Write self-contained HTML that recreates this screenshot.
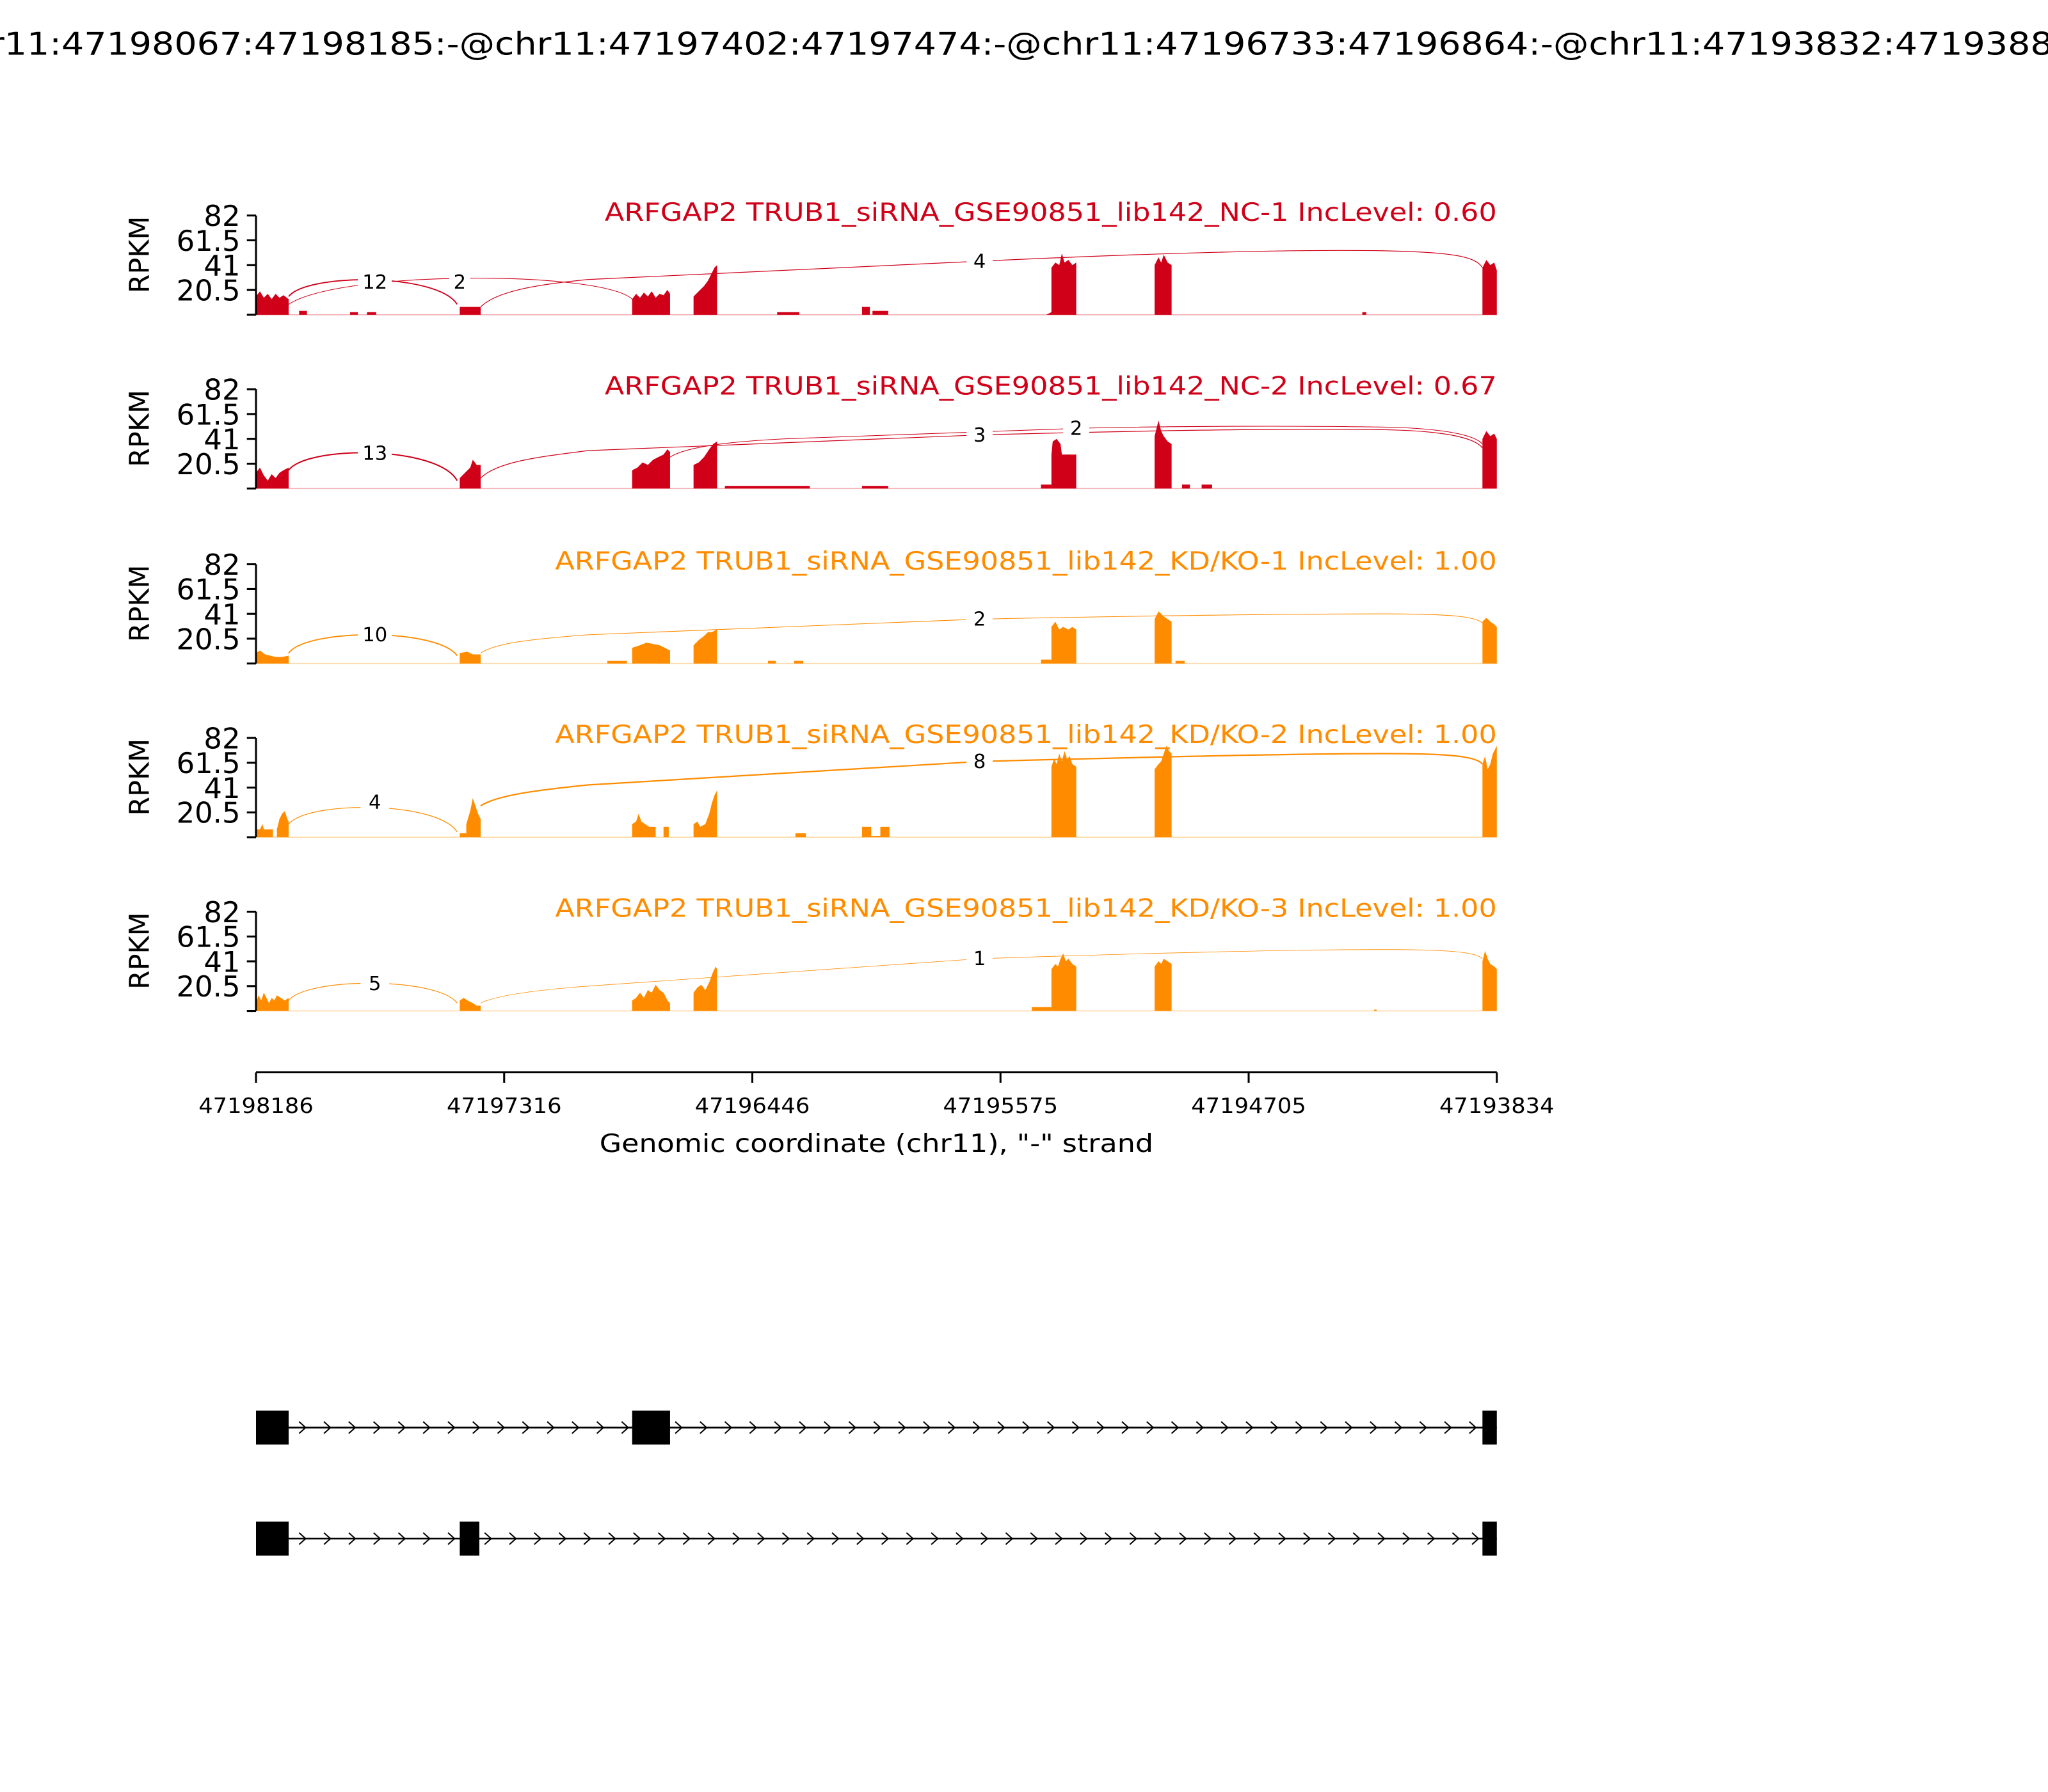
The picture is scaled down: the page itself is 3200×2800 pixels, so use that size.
<!DOCTYPE html>
<html><head><meta charset="utf-8"><style>html,body{margin:0;padding:0;background:#fff}svg{display:block}</style></head>
<body>
<svg xmlns="http://www.w3.org/2000/svg" width="3200" height="2800" viewBox="0 0 1568 1372" font-family="'DejaVu Sans','Liberation Sans',sans-serif">
<rect width="1568" height="1372" fill="#fff"/>
<text x="-40" y="42" font-size="24" textLength="1648" lengthAdjust="spacingAndGlyphs">chr11:47198067:47198185:-@chr11:47197402:47197474:-@chr11:47196733:47196864:-@chr11:47193832:47193888:-</text>

<!-- Panel 1 -->
<g transform="translate(0,165)" fill="#cf0018">
<line x1="196" y1="76" x2="1146" y2="76" stroke="#f4b0b8" stroke-width="0.8"/>
<polygon points="196,76 196,62 199,58 202,63 205,60 208,64 211,60 214,63 217,61 221,64 221,76"/>
<rect x="229" y="73" width="6" height="3"/><rect x="268" y="74" width="6" height="2"/><rect x="281" y="74" width="7" height="2"/>
<rect x="352" y="70" width="16" height="6"/>
<polygon points="484,76 484,64 487,60 490,63 493,59 496,62 499,58 502,63 505,60 508,61 511,57 513,60 513,76"/>
<polygon points="531,76 531,62 535,58 539,54 542,50 545,44 547,40 549,38 549,76"/>
<rect x="595" y="74" width="17" height="2"/><rect x="660" y="70" width="6" height="6"/><rect x="668" y="73" width="12" height="3"/>
<polygon points="801,76 805,74 805,40 808,36 811,38 813,29 815,36 818,34 821,38 824,36 824,76"/>
<polygon points="884,76 884,38 887,32 889,36 891,30 894,36 897,38 897,76"/>
<rect x="1043" y="74" width="3" height="2"/>
<polygon points="1135,76 1135,40 1138,34 1141,38 1144,36 1146,42 1146,76"/>
<g fill="none" stroke="#cf0018">
<path d="M221,62 C235,44 335,44 350,68" stroke-width="0.9"/>
<path d="M221,68 C260,42 460,42 484,64" stroke-width="0.5"/>
<path d="M368,70 C380,58 410,53 450,49 L750,35 C900,28 1000,26 1060,27 C1110,28 1130,31 1135,40" stroke-width="0.6"/>
</g>
</g>

<!-- Panel 2 -->
<g transform="translate(0,298)" fill="#cf0018">
<line x1="196" y1="76" x2="1146" y2="76" stroke="#f4b0b8" stroke-width="0.8"/>
<polygon points="196,76 196,64 199,60 202,66 205,70 208,65 211,68 214,64 217,62 221,60 221,76"/>
<polygon points="352,76 352,68 356,64 360,60 362,54 365,58 368,58 368,76"/>
<polygon points="484,76 484,62 488,60 492,56 496,58 500,54 504,52 508,50 511,46 513,48 513,76"/>
<polygon points="531,76 531,58 535,56 539,52 543,46 546,42 549,40 549,76"/>
<rect x="555" y="74" width="65" height="2"/><rect x="660" y="74" width="20" height="2"/>
<rect x="797" y="73" width="8" height="3"/>
<polygon points="805,76 805,50 806,40 809,38 812,42 813,50 824,50 824,76"/>
<polygon points="884,76 884,36 886,28 887,24 889,32 891,36 894,40 897,42 897,76"/>
<rect x="905" y="73" width="6" height="3"/><rect x="920" y="73" width="8" height="3"/>
<polygon points="1135,76 1135,38 1138,32 1141,36 1144,34 1146,38 1146,76"/>
<g fill="none" stroke="#cf0018">
<path d="M221,62 C235,43 335,43 350,70" stroke-width="1"/>
<path d="M368,68 C380,56 410,52 450,47 L750,35 C900,31 1000,30 1060,31 C1110,32 1130,38 1135,45" stroke-width="0.6"/>
<path d="M513,52 C525,44 560,40 600,38 L824,30 C900,28 1000,28 1060,29 C1110,30 1130,36 1135,42" stroke-width="0.5"/>
</g>
</g>

<!-- Panel 3 -->
<g transform="translate(0,432)" fill="#ff8c00">
<line x1="196" y1="76" x2="1146" y2="76" stroke="#ffd9a8" stroke-width="0.8"/>
<polygon points="196,76 196,68 199,66 203,69 207,70 211,71 216,71 221,70 221,76"/>
<polygon points="352,76 352,68 358,67 362,69 368,69 368,76"/>
<rect x="465" y="74" width="15" height="2"/>
<polygon points="484,76 484,64 490,62 495,60 500,61 505,62 509,64 513,66 513,76"/>
<polygon points="531,76 531,62 535,58 539,55 542,52 545,52 549,50 549,76"/>
<rect x="588" y="74" width="6" height="2"/><rect x="608" y="74" width="7" height="2"/>
<rect x="797" y="73" width="8" height="3"/>
<polygon points="805,76 805,48 808,44 811,50 814,48 818,50 821,48 824,50 824,76"/>
<polygon points="884,76 884,42 887,36 889,38 891,40 894,42 897,44 897,76"/>
<rect x="900" y="74" width="7" height="2"/>
<polygon points="1135,76 1135,44 1138,41 1141,44 1144,46 1146,48 1146,76"/>
<g fill="none" stroke="#ff8c00">
<path d="M221,68 C235,49 335,49 350,70" stroke-width="0.9"/>
<path d="M368,68 C380,60 410,57 450,54 L750,42 C900,39 1000,38 1060,38 C1110,38 1130,40 1135,45" stroke-width="0.5"/>
</g>
</g>

<!-- Panel 4 -->
<g transform="translate(0,565)" fill="#ff8c00">
<line x1="196" y1="76" x2="1146" y2="76" stroke="#ffd9a8" stroke-width="0.8"/>
<polygon points="196,76 196,70 199,70 201,66 202,70 205,70 209,70 209,76"/>
<polygon points="212,76 212,70 214,62 216,58 218,56 220,62 221,64 221,76"/>
<rect x="352" y="73" width="5" height="3"/>
<polygon points="357,76 357,66 360,56 362,46 364,52 366,58 368,62 368,76"/>
<polygon points="484,76 484,66 487,64 489,58 491,64 494,66 497,68 502,68 502,76"/>
<rect x="508" y="68" width="4" height="8"/>
<polygon points="531,76 531,66 534,64 536,68 540,66 543,58 545,50 547,44 549,40 549,76"/>
<rect x="609" y="73" width="8" height="3"/><rect x="660" y="68" width="7" height="8"/><rect x="667" y="75" width="7" height="1"/><rect x="674" y="68" width="7" height="8"/>
<polygon points="805,76 805,22 807,16 809,20 811,12 813,18 815,10 817,16 819,14 821,20 824,22 824,76"/>
<polygon points="884,76 884,24 887,20 889,18 891,12 893,6 895,10 897,12 897,76"/>
<polygon points="1135,76 1135,20 1137,14 1139,24 1141,20 1143,12 1146,6 1146,76"/>
<g fill="none" stroke="#ff8c00">
<path d="M221,66 C235,48 335,48 350,72" stroke-width="0.6"/>
<path d="M368,52 C380,44 410,40 450,36 L750,18 C900,14 1000,12 1060,12 C1110,12 1130,14 1135,20" stroke-width="1.1"/>
</g>
</g>

<!-- Panel 5 -->
<g transform="translate(0,698)" fill="#ff8c00">
<line x1="196" y1="76" x2="1146" y2="76" stroke="#ffd9a8" stroke-width="0.8"/>
<polygon points="196,76 196,70 198,64 200,68 202,62 204,66 206,70 208,66 210,68 212,64 215,66 218,68 221,66 221,76"/>
<polygon points="352,76 352,68 355,66 358,68 362,70 365,72 368,72 368,76"/>
<polygon points="484,76 484,68 487,66 490,62 493,66 496,60 499,62 502,56 505,60 508,62 511,68 513,70 513,76"/>
<polygon points="531,76 531,62 534,58 537,56 540,60 543,54 546,46 548,42 549,44 549,76"/>
<rect x="790" y="73" width="15" height="3"/>
<polygon points="805,76 805,44 808,40 810,42 812,36 814,32 816,38 818,36 821,40 824,42 824,76"/>
<polygon points="884,76 884,42 887,38 889,40 891,36 894,38 897,40 897,76"/>
<rect x="1052" y="75" width="2" height="1"/>
<polygon points="1135,76 1135,38 1137,30 1139,36 1141,40 1144,42 1146,44 1146,76"/>
<g fill="none" stroke="#ff8c00">
<path d="M221,68 C235,50 335,50 350,70" stroke-width="0.6"/>
<path d="M368,70 C380,64 410,60 450,57 L750,36 C900,31 1000,29 1060,29 C1110,29 1130,31 1135,36" stroke-width="0.4"/>
</g>
</g>

<!-- axes, labels for panels -->
<g stroke="#000" stroke-width="1.5">
<line x1="196" y1="165" x2="196" y2="241"/><line x1="196" y1="298" x2="196" y2="374"/><line x1="196" y1="432" x2="196" y2="508"/><line x1="196" y1="565" x2="196" y2="641"/><line x1="196" y1="698" x2="196" y2="774"/>
<path d="M189,165H196M189,184H196M189,203H196M189,222H196M189,241H196"/>
<path d="M189,298H196M189,317H196M189,336H196M189,355H196M189,374H196"/>
<path d="M189,432H196M189,451H196M189,470H196M189,489H196M189,508H196"/>
<path d="M189,565H196M189,584H196M189,603H196M189,622H196M189,641H196"/>
<path d="M189,698H196M189,717H196M189,736H196M189,755H196M189,774H196"/>
</g>
<g font-size="22" text-anchor="end">
<text x="184" y="173">82</text><text x="184" y="192">61.5</text><text x="184" y="211">41</text><text x="184" y="230">20.5</text>
<text x="184" y="306">82</text><text x="184" y="325">61.5</text><text x="184" y="344">41</text><text x="184" y="363">20.5</text>
<text x="184" y="440">82</text><text x="184" y="459">61.5</text><text x="184" y="478">41</text><text x="184" y="497">20.5</text>
<text x="184" y="573">82</text><text x="184" y="592">61.5</text><text x="184" y="611">41</text><text x="184" y="630">20.5</text>
<text x="184" y="706">82</text><text x="184" y="725">61.5</text><text x="184" y="744">41</text><text x="184" y="763">20.5</text>
</g>
<g font-size="21" text-anchor="middle">
<text transform="translate(114,195) rotate(-90)">RPKM</text>
<text transform="translate(114,328) rotate(-90)">RPKM</text>
<text transform="translate(114,462) rotate(-90)">RPKM</text>
<text transform="translate(114,595) rotate(-90)">RPKM</text>
<text transform="translate(114,728) rotate(-90)">RPKM</text>
</g>
<g font-size="19">
<text x="463" y="169" fill="#cf0018" textLength="683" lengthAdjust="spacingAndGlyphs">ARFGAP2 TRUB1_siRNA_GSE90851_lib142_NC-1 IncLevel: 0.60</text>
<text x="463" y="302" fill="#cf0018" textLength="683" lengthAdjust="spacingAndGlyphs">ARFGAP2 TRUB1_siRNA_GSE90851_lib142_NC-2 IncLevel: 0.67</text>
<text x="425" y="436" fill="#ff8c00" textLength="721" lengthAdjust="spacingAndGlyphs">ARFGAP2 TRUB1_siRNA_GSE90851_lib142_KD/KO-1 IncLevel: 1.00</text>
<text x="425" y="569" fill="#ff8c00" textLength="721" lengthAdjust="spacingAndGlyphs">ARFGAP2 TRUB1_siRNA_GSE90851_lib142_KD/KO-2 IncLevel: 1.00</text>
<text x="425" y="702" fill="#ff8c00" textLength="721" lengthAdjust="spacingAndGlyphs">ARFGAP2 TRUB1_siRNA_GSE90851_lib142_KD/KO-3 IncLevel: 1.00</text>
</g>
<!-- junction labels -->
<g font-size="15" text-anchor="middle">
<rect x="274" y="207" width="26" height="18" fill="#fff"/><text x="287" y="221">12</text>
<rect x="344" y="207" width="16" height="18" fill="#fff"/><text x="352" y="221">2</text>
<rect x="740" y="191" width="20" height="18" fill="#fff"/><text x="750" y="205">4</text>
<rect x="274" y="338" width="26" height="18" fill="#fff"/><text x="287" y="352">13</text>
<rect x="740" y="324" width="20" height="18" fill="#fff"/><text x="750" y="338">3</text>
<rect x="814" y="319" width="20" height="18" fill="#fff"/><text x="824" y="333">2</text>
<rect x="274" y="477" width="26" height="18" fill="#fff"/><text x="287" y="491">10</text>
<rect x="740" y="465" width="20" height="18" fill="#fff"/><text x="750" y="479">2</text>
<rect x="276" y="605" width="22" height="18" fill="#fff"/><text x="287" y="619">4</text>
<rect x="740" y="574" width="20" height="18" fill="#fff"/><text x="750" y="588">8</text>
<rect x="276" y="744" width="22" height="18" fill="#fff"/><text x="287" y="758">5</text>
<rect x="740" y="725" width="20" height="18" fill="#fff"/><text x="750" y="739">1</text>
</g>

<!-- x axis -->
<g stroke="#000" stroke-width="1.5">
<line x1="196" y1="821" x2="1146" y2="821"/>
<path d="M196,821V829M386,821V829M576,821V829M766,821V829M956,821V829M1146,821V829"/>
</g>
<g font-size="16" text-anchor="middle">
<text x="196" y="852" textLength="88" lengthAdjust="spacingAndGlyphs">47198186</text><text x="386" y="852" textLength="88" lengthAdjust="spacingAndGlyphs">47197316</text><text x="576" y="852" textLength="88" lengthAdjust="spacingAndGlyphs">47196446</text>
<text x="766" y="852" textLength="88" lengthAdjust="spacingAndGlyphs">47195575</text><text x="956" y="852" textLength="88" lengthAdjust="spacingAndGlyphs">47194705</text><text x="1146" y="852" textLength="88" lengthAdjust="spacingAndGlyphs">47193834</text>
</g>
<text x="459" y="882" font-size="19" textLength="424" lengthAdjust="spacingAndGlyphs">Genomic coordinate (chr11), "-" strand</text>

<!-- gene models -->
<g>
<line x1="196" y1="1093" x2="1146" y2="1093" stroke="#000" stroke-width="1.3"/>
<rect x="196" y="1080" width="25" height="26"/><rect x="484" y="1080" width="29" height="26"/><rect x="1135" y="1080" width="11" height="26"/>
<path fill="none" stroke="#000" stroke-width="1" d="M229,1088.5L234,1093L229,1097.5M248,1088.5L253,1093L248,1097.5M267,1088.5L272,1093L267,1097.5M286,1088.5L291,1093L286,1097.5M305,1088.5L310,1093L305,1097.5M324,1088.5L329,1093L324,1097.5M343,1088.5L348,1093L343,1097.5M362,1088.5L367,1093L362,1097.5M381,1088.5L386,1093L381,1097.5M400,1088.5L405,1093L400,1097.5M419,1088.5L424,1093L419,1097.5M438,1088.5L443,1093L438,1097.5M457,1088.5L462,1093L457,1097.5M476,1088.5L481,1093L476,1097.5M517,1088.5L522,1093L517,1097.5M536,1088.5L541,1093L536,1097.5M555,1088.5L560,1093L555,1097.5M574,1088.5L579,1093L574,1097.5M593,1088.5L598,1093L593,1097.5M612,1088.5L617,1093L612,1097.5M631,1088.5L636,1093L631,1097.5M650,1088.5L655,1093L650,1097.5M669,1088.5L674,1093L669,1097.5M688,1088.5L693,1093L688,1097.5M707,1088.5L712,1093L707,1097.5M726,1088.5L731,1093L726,1097.5M745,1088.5L750,1093L745,1097.5M764,1088.5L769,1093L764,1097.5M783,1088.5L788,1093L783,1097.5M802,1088.5L807,1093L802,1097.5M821,1088.5L826,1093L821,1097.5M840,1088.5L845,1093L840,1097.5M859,1088.5L864,1093L859,1097.5M878,1088.5L883,1093L878,1097.5M897,1088.5L902,1093L897,1097.5M916,1088.5L921,1093L916,1097.5M935,1088.5L940,1093L935,1097.5M954,1088.5L959,1093L954,1097.5M973,1088.5L978,1093L973,1097.5M992,1088.5L997,1093L992,1097.5M1011,1088.5L1016,1093L1011,1097.5M1030,1088.5L1035,1093L1030,1097.5M1049,1088.5L1054,1093L1049,1097.5M1068,1088.5L1073,1093L1068,1097.5M1087,1088.5L1092,1093L1087,1097.5M1106,1088.5L1111,1093L1106,1097.5M1125,1088.5L1130,1093L1125,1097.5"/>
</g>
<g>
<line x1="196" y1="1178" x2="1146" y2="1178" stroke="#000" stroke-width="1.3"/>
<rect x="196" y="1165" width="25" height="26"/><rect x="352" y="1165" width="15" height="26"/><rect x="1135" y="1165" width="11" height="26"/>
<path fill="none" stroke="#000" stroke-width="1" d="M229,1173.5L234,1178L229,1182.5M248,1173.5L253,1178L248,1182.5M267,1173.5L272,1178L267,1182.5M286,1173.5L291,1178L286,1182.5M305,1173.5L310,1178L305,1182.5M324,1173.5L329,1178L324,1182.5M343,1173.5L348,1178L343,1182.5M371,1173.5L376,1178L371,1182.5M390,1173.5L395,1178L390,1182.5M409,1173.5L414,1178L409,1182.5M428,1173.5L433,1178L428,1182.5M447,1173.5L452,1178L447,1182.5M466,1173.5L471,1178L466,1182.5M485,1173.5L490,1178L485,1182.5M504,1173.5L509,1178L504,1182.5M523,1173.5L528,1178L523,1182.5M542,1173.5L547,1178L542,1182.5M561,1173.5L566,1178L561,1182.5M580,1173.5L585,1178L580,1182.5M599,1173.5L604,1178L599,1182.5M618,1173.5L623,1178L618,1182.5M637,1173.5L642,1178L637,1182.5M656,1173.5L661,1178L656,1182.5M675,1173.5L680,1178L675,1182.5M694,1173.5L699,1178L694,1182.5M713,1173.5L718,1178L713,1182.5M732,1173.5L737,1178L732,1182.5M751,1173.5L756,1178L751,1182.5M770,1173.5L775,1178L770,1182.5M789,1173.5L794,1178L789,1182.5M808,1173.5L813,1178L808,1182.5M827,1173.5L832,1178L827,1182.5M846,1173.5L851,1178L846,1182.5M865,1173.5L870,1178L865,1182.5M884,1173.5L889,1178L884,1182.5M903,1173.5L908,1178L903,1182.5M922,1173.5L927,1178L922,1182.5M941,1173.5L946,1178L941,1182.5M960,1173.5L965,1178L960,1182.5M979,1173.5L984,1178L979,1182.5M998,1173.5L1003,1178L998,1182.5M1017,1173.5L1022,1178L1017,1182.5M1036,1173.5L1041,1178L1036,1182.5M1055,1173.5L1060,1178L1055,1182.5M1074,1173.5L1079,1178L1074,1182.5M1093,1173.5L1098,1178L1093,1182.5M1112,1173.5L1117,1178L1112,1182.5M1127,1173.5L1132,1178L1127,1182.5"/>
</g>
</svg>
</body></html>
